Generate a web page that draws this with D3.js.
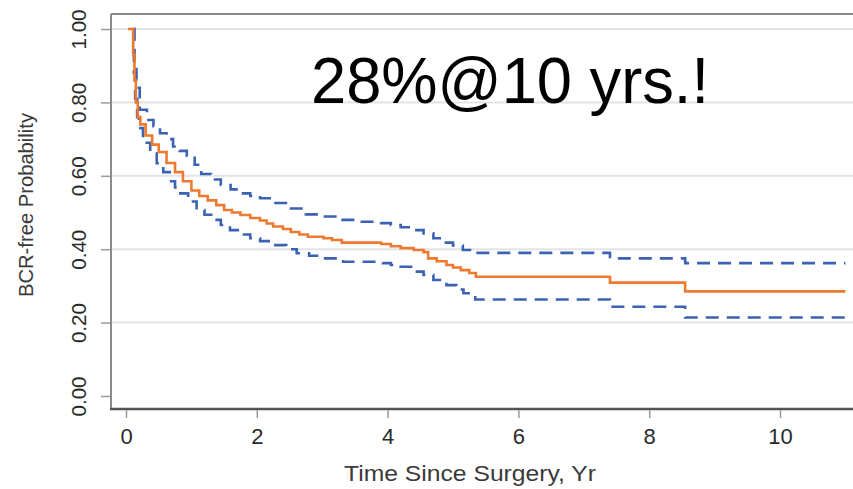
<!DOCTYPE html>
<html>
<head>
<meta charset="utf-8">
<script src="https://cdn.jsdelivr.net/npm/d3@7"></script>
<style>
  body { margin: 0; background: #fff; }
  svg { display: block; }
</style>
</head>
<body>
<div id="chart"></div>
<script>
// Kaplan-Meier estimate (orange)
var kmTime = [0.03, 0.11, 0.13, 0.15, 0.18, 0.22, 0.3, 0.4, 0.5, 0.62, 0.75, 0.87, 1.0, 1.12, 1.25, 1.38, 1.5, 1.62, 1.75, 1.9,
  2.05, 2.15, 2.25, 2.4, 2.52, 2.65, 2.78, 3.02, 3.15, 3.3, 3.9, 4.05, 4.2, 4.4, 4.55, 4.62, 4.75, 4.9, 5.0, 5.12,
  5.25, 5.35, 7.4, 8.55, 11.0];
var kmSurv = [1.0, 0.93, 0.86, 0.80, 0.76, 0.74, 0.71, 0.685, 0.665, 0.635, 0.61, 0.585, 0.56, 0.545, 0.533, 0.52, 0.507, 0.50, 0.493, 0.485,
  0.478, 0.47, 0.462, 0.455, 0.447, 0.44, 0.434, 0.43, 0.425, 0.418, 0.414, 0.408, 0.403, 0.398, 0.392, 0.375, 0.367, 0.357, 0.35, 0.343,
  0.335, 0.325, 0.309, 0.285, 0.285];

// upper confidence limit (blue dashed)
var upperTime = [0.11, 0.13, 0.16, 0.21, 0.32, 0.42, 0.52, 0.62, 0.72, 0.82, 0.93, 1.05, 1.15, 1.3, 1.45, 1.6, 1.75, 1.9, 2.05, 2.25,
  2.5, 2.75, 3.0, 3.25, 3.55, 3.9, 4.05, 4.2, 4.4, 4.55, 4.7, 4.85, 5.0, 5.15, 5.35, 7.4, 8.55, 11.0];
var upperSurv = [1.0, 0.90, 0.84, 0.78, 0.752, 0.735, 0.716, 0.70, 0.68, 0.668, 0.655, 0.63, 0.605, 0.59, 0.575, 0.563, 0.552, 0.545, 0.539, 0.526,
  0.511, 0.495, 0.489, 0.48, 0.475, 0.471, 0.466, 0.46, 0.452, 0.443, 0.43, 0.418, 0.41, 0.398, 0.39, 0.375, 0.362, 0.362];

// lower confidence limit (blue dashed)
var lowerTime = [0.11, 0.12, 0.14, 0.17, 0.2, 0.26, 0.37, 0.47, 0.57, 0.67, 0.75, 0.83, 0.95, 1.08, 1.2, 1.33, 1.45, 1.59, 1.75, 1.9,
  2.05, 2.25, 2.45, 2.61, 2.8, 3.02, 3.32, 3.93, 4.05, 4.2, 4.39, 4.55, 4.7, 4.9, 5.05, 5.16, 5.34, 7.4, 8.55, 11.0];
var lowerSurv = [1.0, 0.88, 0.81, 0.76, 0.73, 0.69, 0.661, 0.634, 0.61, 0.585, 0.568, 0.552, 0.53, 0.507, 0.494, 0.48, 0.466, 0.452, 0.44, 0.43,
  0.422, 0.411, 0.4, 0.389, 0.382, 0.375, 0.366, 0.362, 0.357, 0.352, 0.339, 0.33, 0.316, 0.302, 0.29, 0.28, 0.263, 0.243, 0.214, 0.214];

var xTicks = [0, 2, 4, 6, 8, 10];
var yTicks = [0, 0.2, 0.4, 0.6, 0.8, 1.0];
var xTitle = "Time Since Surgery, Yr";
var yTitle = "BCR-free Probability";
var note = "28%@10 yrs.!";

var W = 853, H = 489;
var box = {left: 111, top: 14, bottom: 409};
var font = "'Liberation Sans', Arial, Helvetica, sans-serif";

var svg = d3.select("#chart").append("svg")
  .attr("width", W)
  .attr("height", H)
  .style("font-family", font);

var x = d3.scaleLinear().domain([0, 10]).range([126, 780]);
var y = d3.scaleLinear().domain([0, 1]).range([396, 29]);

// gridlines
svg.append("g").selectAll("line")
  .data(yTicks.filter(d => d > 0))
  .enter().append("line")
  .attr("x1", box.left).attr("x2", W)
  .attr("y1", d => y(d)).attr("y2", d => y(d))
  .attr("stroke", "#e4e4e4")
  .attr("stroke-width", 2);

// frame
svg.append("line")
  .attr("x1", box.left).attr("x2", W)
  .attr("y1", box.top).attr("y2", box.top)
  .attr("stroke", "#8c8c8c").attr("stroke-width", 2);
svg.append("line")
  .attr("x1", box.left).attr("x2", box.left)
  .attr("y1", box.top).attr("y2", box.bottom)
  .attr("stroke", "#8c8c8c").attr("stroke-width", 2);
svg.append("line")
  .attr("x1", box.left - 1).attr("x2", W)
  .attr("y1", box.bottom).attr("y2", box.bottom)
  .attr("stroke", "#555").attr("stroke-width", 2.5);

// x axis
var gx = svg.append("g")
  .attr("transform", "translate(0," + (box.bottom + 1) + ")")
  .call(d3.axisBottom(x).tickValues(xTicks).tickSize(8).tickPadding(10).tickFormat(d3.format("d")));
gx.select(".domain").remove();
gx.selectAll(".tick line").attr("stroke", "#999").attr("stroke-width", 1.5);
gx.selectAll(".tick text")
  .attr("fill", "#2a2a2a")
  .style("font-size", "22px")
  .style("font-family", font);

// y axis, labels turned on their side
var gy = svg.append("g")
  .attr("transform", "translate(" + (box.left - 1) + ",0)")
  .call(d3.axisLeft(y).tickValues(yTicks).tickSize(9).tickFormat(d3.format(".2f")));
gy.select(".domain").remove();
gy.selectAll(".tick line").attr("stroke", "#999").attr("stroke-width", 1.5);
gy.selectAll(".tick text")
  .attr("x", null).attr("dy", null)
  .attr("text-anchor", "middle")
  .attr("transform", "translate(-24,0) rotate(-90)")
  .attr("textLength", 40)
  .attr("lengthAdjust", "spacingAndGlyphs")
  .attr("fill", "#2a2a2a")
  .style("font-size", "21px")
  .style("font-family", font);

// axis titles
svg.append("text")
  .attr("x", 470).attr("y", 481)
  .attr("text-anchor", "middle")
  .attr("fill", "#3a3a3a")
  .style("font-size", "22px")
  .attr("textLength", 252)
  .attr("lengthAdjust", "spacingAndGlyphs")
  .text(xTitle);

svg.append("text")
  .attr("transform", "translate(33,205) rotate(-90)")
  .attr("text-anchor", "middle")
  .attr("fill", "#3a3a3a")
  .style("font-size", "20px")
  .attr("textLength", 184)
  .attr("lengthAdjust", "spacingAndGlyphs")
  .text(yTitle);

// curves
var line = d3.line()
  .x(d => x(d[0]))
  .y(d => y(d[1]))
  .curve(d3.curveStepAfter);

svg.append("path")
  .datum(d3.zip(upperTime, upperSurv))
  .attr("d", line)
  .attr("fill", "none")
  .attr("stroke", "#3b62b3")
  .attr("stroke-width", 2.6)
  .attr("stroke-dasharray", "13,8");

svg.append("path")
  .datum(d3.zip(lowerTime, lowerSurv))
  .attr("d", line)
  .attr("fill", "none")
  .attr("stroke", "#3b62b3")
  .attr("stroke-width", 2.6)
  .attr("stroke-dasharray", "13,8");

svg.append("path")
  .datum(d3.zip(kmTime, kmSurv))
  .attr("d", line)
  .attr("fill", "none")
  .attr("stroke", "#ee7a30")
  .attr("stroke-width", 2.6);

// annotation
svg.append("text")
  .attr("x", 311).attr("y", 103)
  .attr("fill", "#000")
  .style("font-size", "64px")
  .attr("textLength", 398)
  .attr("lengthAdjust", "spacingAndGlyphs")
  .text(note);
</script>
</body>
</html>
